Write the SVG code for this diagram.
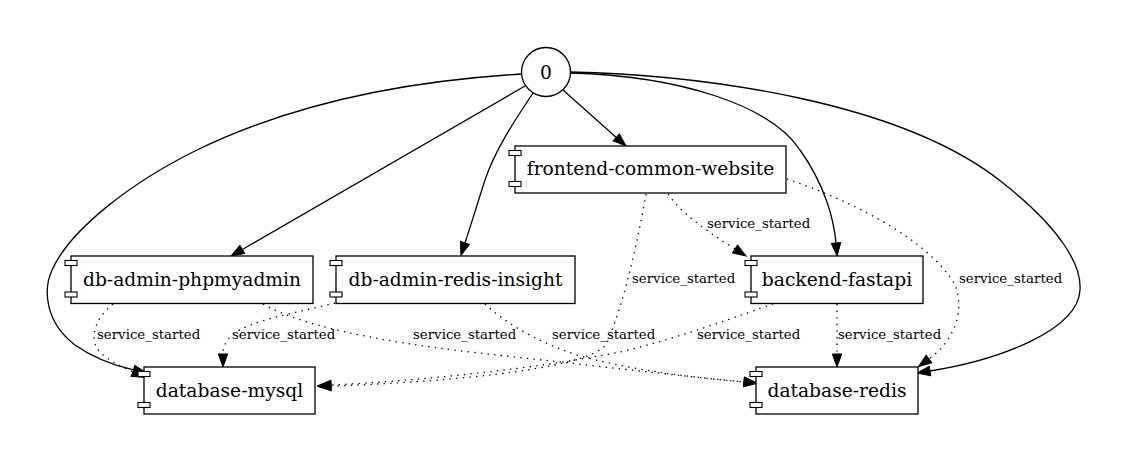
<svg xmlns="http://www.w3.org/2000/svg" width="1126" height="463" viewBox="0 0 1126 463">
<style>
.bg{fill:#ffffff}
.box{fill:#ffffff;stroke:#000;stroke-width:1.3}
.tab{fill:#ffffff;stroke:#000;stroke-width:1.1}
.nl{font-family:"DejaVu Serif","Liberation Serif",serif;font-size:18.67px;fill:#000;text-anchor:middle}
.el{font-family:"DejaVu Serif","Liberation Serif",serif;font-size:13.33px;fill:#000}
.e{fill:none;stroke:#000;stroke-width:1.3;marker-end:url(#ah)}
.d{stroke-dasharray:1.4,5.2}
</style>
<defs>
<marker id="ah" markerUnits="userSpaceOnUse" markerWidth="16" markerHeight="12" refX="0" refY="4.7" orient="auto" overflow="visible">
<path d="M0,0 L13,4.7 L0,9.4 Z" fill="#000" stroke="#000" stroke-width="1"/>
</marker>
</defs>
<rect class="bg" x="0" y="0" width="1126" height="463"/>
<g id="connectors">
<path class="e" d="M522,74 C420,80 300,100 197,150 C130,183 70,230 52,270 C43,290 45,322 75,345 C92,357 112,365 133.6,369.9"/>
<path class="e" d="M525,86 L242.3,249.5"/>
<path class="e" d="M533,93 C515,120 495,150 485,180 C477,205 470,228 465,243"/>
<path class="e" d="M563,90 L616.3,137.4"/>
<path class="e" d="M570,73 C680,76 770,105 800,150 C825,185 834,220 836,243"/>
<path class="e" d="M570,72 C700,75 900,100 1003,183 C1060,228 1082,265 1080,290 C1078,330 1000,360 930,371"/>
<path class="e d" d="M668,194 C680,212 705,230 735,249"/>
<path class="e d" d="M646,194 C638,240 625,300 607,343 C590,372 420,383 331,386"/>
<path class="e d" d="M787,179 C850,200 930,240 955,285 C965,310 955,340 929,359"/>
<path class="e d" d="M773,304 C740,315 680,338 620,352 C540,368 420,381 331,385"/>
<path class="e d" d="M837,304 L837,354"/>
<path class="e d" d="M113,304 C95,318 88,340 100,352 C108,360 120,366 133,372"/>
<path class="e d" d="M335,303 C300,312 250,320 232,335 C225,342 223,348 223,354"/>
<path class="e d" d="M263,304 C300,325 370,340 470,352 C580,364 680,376 744,382"/>
<path class="e d" d="M485,304 C500,318 530,340 580,356 C640,372 700,378 744,382"/>
<text class="el" x="707" y="227.5">service_started</text>
<text class="el" x="632" y="283">service_started</text>
<text class="el" x="959" y="283">service_started</text>
<text class="el" x="97" y="339">service_started</text>
<text class="el" x="232" y="339">service_started</text>
<text class="el" x="413" y="339">service_started</text>
<text class="el" x="552" y="339">service_started</text>
<text class="el" x="697" y="339">service_started</text>
<text class="el" x="838" y="339">service_started</text>
</g>
<g id="n0">
<circle cx="546" cy="72" r="24.5" fill="#fff" stroke="#000" stroke-width="1.3"/>
<text class="nl" x="546" y="78.5">0</text>
</g>
<g id="frontend-common-website">
<rect class="box" x="515" y="146" width="271" height="47"/>
<rect class="tab" x="509" y="150.5" width="12" height="5"/>
<rect class="tab" x="509" y="181.5" width="12" height="5"/>
<text class="nl" x="650.5" y="175">frontend-common-website</text>
</g>
<g id="db-admin-phpmyadmin">
<rect class="box" x="71" y="256" width="242" height="47.5"/>
<rect class="tab" x="65" y="260.5" width="12" height="5"/>
<rect class="tab" x="65" y="292" width="12" height="5"/>
<text class="nl" x="192" y="285.5">db-admin-phpmyadmin</text>
</g>
<g id="db-admin-redis-insight">
<rect class="box" x="336" y="256" width="239" height="47.5"/>
<rect class="tab" x="330" y="260.5" width="12" height="5"/>
<rect class="tab" x="330" y="292" width="12" height="5"/>
<text class="nl" x="455.5" y="285.5">db-admin-redis-insight</text>
</g>
<g id="backend-fastapi">
<rect class="box" x="751" y="256" width="172" height="47.5"/>
<rect class="tab" x="745" y="260.5" width="12" height="5"/>
<rect class="tab" x="745" y="292" width="12" height="5"/>
<text class="nl" x="837" y="285.5">backend-fastapi</text>
</g>
<g id="database-mysql">
<rect class="box" x="144" y="367" width="171" height="47"/>
<rect class="tab" x="138" y="371.5" width="12" height="5"/>
<rect class="tab" x="138" y="402.5" width="12" height="5"/>
<text class="nl" x="229.5" y="396.5">database-mysql</text>
</g>
<g id="database-redis">
<rect class="box" x="756" y="367" width="162" height="47"/>
<rect class="tab" x="750" y="371.5" width="12" height="5"/>
<rect class="tab" x="750" y="402.5" width="12" height="5"/>
<text class="nl" x="837" y="396.5">database-redis</text>
</g>
</svg>
